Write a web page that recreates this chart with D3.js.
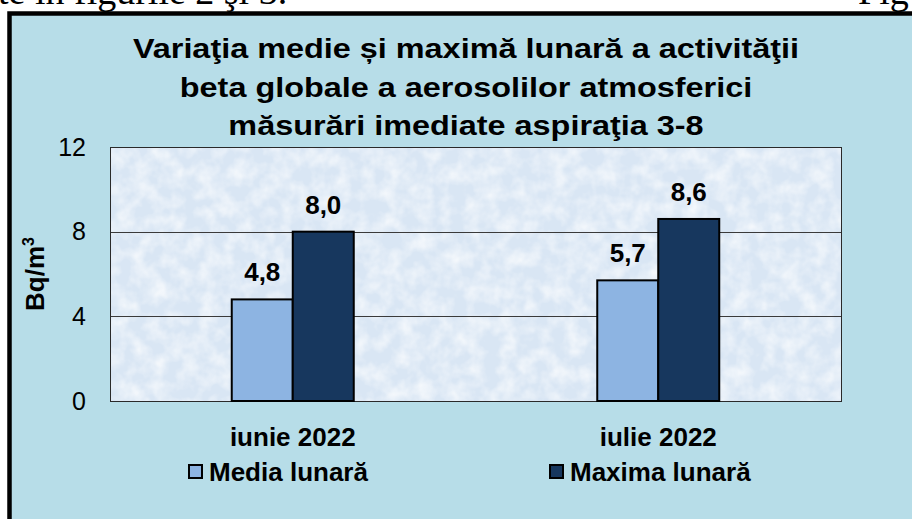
<!DOCTYPE html>
<html>
<head>
<meta charset="utf-8">
<script src="https://cdn.jsdelivr.net/npm/d3@7"></script>
<style>
  html, body { margin: 0; padding: 0; background: #fff; overflow: hidden; }
  svg { display: block; }
</style>
</head>
<body>
<script>
(function() {
  'use strict';

  // chart data
  const categories = ['iunie 2022', 'iulie 2022'];
  const seriesNames = ['Media lunară', 'Maxima lunară'];
  const mediaValues = [4.8, 5.7];
  const maximaValues = [8.0, 8.6];
  const yTicks = [0, 4, 8, 12];
  const titleLines = [
    'Variaţia medie și maximă lunară a activităţii',
    'beta globale  a aerosolilor atmosferici',
    'măsurări imediate aspiraţia 3-8'
  ];

  const w = 912;
  const h = 519;
  const colors = ['#8db4e2', '#17375e'];
  const font = 'Arial, "Liberation Sans", sans-serif';
  const serif = '"Liberation Serif", "Times New Roman", serif';

  const plot = { left: 110, right: 841, top: 147, bottom: 401 };

  const svg = d3.select('body')
    .append('svg')
    .attr('width', w)
    .attr('height', h);

  // texture for plot area
  const defs = svg.append('defs');
  const filter = defs.append('filter')
    .attr('id', 'mottle')
    .attr('x', 0).attr('y', 0).attr('width', 1).attr('height', 1);
  filter.append('feTurbulence')
    .attr('type', 'fractalNoise')
    .attr('baseFrequency', 0.06)
    .attr('numOctaves', 3)
    .attr('seed', 7)
    .attr('result', 'noise');
  filter.append('feColorMatrix')
    .attr('in', 'noise')
    .attr('type', 'matrix')
    .attr('values', '0 0 0 0 1  0 0 0 0 1  0 0 0 0 1  0 0 0 1.6 -0.55');

  // page text above the chart (cut off by the page edge, as in the scan)
  svg.append('text')
    .attr('x', -2)
    .attr('y', 4)
    .style('font-family', serif)
    .style('font-size', '38px')
    .text('te în figurile 2 şi 3.');
  svg.append('text')
    .attr('x', 858)
    .attr('y', 4)
    .style('font-family', serif)
    .style('font-size', '38px')
    .text('Fig');

  // chart box
  svg.append('rect')
    .attr('x', 9.5)
    .attr('y', 13.5)
    .attr('width', 940)
    .attr('height', 540)
    .attr('fill', '#b7dde8')
    .attr('stroke', '#000')
    .attr('stroke-width', 4.5);

  // title (the original is set wide)
  svg.append('g')
    .selectAll('text')
    .data(titleLines)
    .enter()
    .append('text')
    .attr('transform', (d, i) => 'translate(466,' + (58 + i * 38.5) + ') scale(1.2,1)')
    .attr('text-anchor', 'middle')
    .style('font-family', font)
    .style('font-size', '27px')
    .style('font-weight', 'bold')
    .text((d) => d);

  // scales
  const xScale = d3.scaleBand()
    .domain(categories)
    .range([plot.left, plot.right]);
  const groupWidth = 122;
  const xInner = d3.scaleBand()
    .domain(seriesNames)
    .range([0, groupWidth]);
  const yScale = d3.scaleLinear()
    .domain([0, 12])
    .range([plot.bottom, plot.top]);

  // plot area
  svg.append('rect')
    .attr('x', plot.left)
    .attr('y', plot.top)
    .attr('width', plot.right - plot.left)
    .attr('height', plot.bottom - plot.top)
    .attr('fill', '#d9e6f4');
  svg.append('rect')
    .attr('x', plot.left)
    .attr('y', plot.top)
    .attr('width', plot.right - plot.left)
    .attr('height', plot.bottom - plot.top)
    .attr('fill', '#fff')
    .attr('filter', 'url(#mottle)')
    .attr('opacity', 0.8);

  // gridlines
  svg.append('g')
    .selectAll('line')
    .data(yTicks.filter((t) => t > 0 && t < 12))
    .enter()
    .append('line')
    .attr('x1', plot.left)
    .attr('x2', plot.right)
    .attr('y1', (d) => Math.round(yScale(d)) + 0.5)
    .attr('y2', (d) => Math.round(yScale(d)) + 0.5)
    .attr('stroke', '#3a3a3a')
    .attr('stroke-width', 1);

  svg.append('rect')
    .attr('x', plot.left + 0.5)
    .attr('y', plot.top + 0.5)
    .attr('width', plot.right - plot.left)
    .attr('height', plot.bottom - plot.top)
    .attr('fill', 'none')
    .attr('stroke', '#2a2a2a')
    .attr('stroke-width', 1);

  // bars
  const seriesData = [mediaValues, maximaValues];
  const offset = (xScale.bandwidth() - groupWidth) / 2;
  const barData = [];
  categories.forEach((c, i) => {
    seriesNames.forEach((s, j) => {
      barData.push({ cat: c, series: s, idx: j, value: seriesData[j][i] });
    });
  });

  svg.append('g')
    .selectAll('rect')
    .data(barData)
    .enter()
    .append('rect')
    .attr('x', (d) => xScale(d.cat) + offset + xInner(d.series))
    .attr('y', (d) => yScale(d.value))
    .attr('width', xInner.bandwidth())
    .attr('height', (d) => yScale(0) - yScale(d.value))
    .attr('fill', (d) => colors[d.idx])
    .attr('stroke', '#000')
    .attr('stroke-width', 2);

  // value labels
  svg.append('g')
    .selectAll('text')
    .data(barData)
    .enter()
    .append('text')
    .attr('x', (d) => xScale(d.cat) + offset + xInner(d.series) + xInner.bandwidth() / 2)
    .attr('y', (d) => yScale(d.value) - 18)
    .attr('text-anchor', 'middle')
    .style('font-family', font)
    .style('font-size', '26px')
    .style('font-weight', 'bold')
    .text((d) => d.value.toFixed(1).replace('.', ','));

  // y axis
  const yAxis = d3.axisLeft(yScale)
    .tickValues(yTicks)
    .tickSize(0)
    .tickPadding(0);
  const yAxisG = svg.append('g')
    .attr('transform', 'translate(86,0)')
    .call(yAxis);
  yAxisG.select('.domain').remove();
  yAxisG.selectAll('text')
    .style('font-family', font)
    .style('font-size', '25px')
    .attr('fill', '#000');

  // y axis title
  const yTitle = svg.append('text')
    .attr('transform', 'translate(44,' + ((plot.top + plot.bottom) / 2) + ') rotate(-90)')
    .attr('text-anchor', 'middle')
    .style('font-family', font)
    .style('font-size', '26px')
    .style('font-weight', 'bold');
  yTitle.append('tspan').text('Bq/m');
  yTitle.append('tspan')
    .attr('dy', -10)
    .style('font-size', '16px')
    .text('3');

  // x axis
  const xAxis = d3.axisBottom(xScale).tickSize(0).tickPadding(0);
  const xAxisG = svg.append('g')
    .attr('transform', 'translate(0,' + plot.bottom + ')')
    .call(xAxis);
  xAxisG.select('.domain').remove();
  xAxisG.selectAll('text')
    .attr('y', 45)
    .attr('dy', 0)
    .attr('fill', '#000')
    .style('font-family', font)
    .style('font-size', '26px')
    .style('font-weight', 'bold');

  // legend
  const legendX = [188, 549];
  const legend = svg.append('g')
    .selectAll('g')
    .data(seriesNames)
    .enter()
    .append('g')
    .attr('transform', (d, i) => 'translate(' + legendX[i] + ',464)');
  legend.append('rect')
    .attr('x', 1)
    .attr('y', 1)
    .attr('width', 13)
    .attr('height', 13)
    .attr('fill', (d, i) => colors[i])
    .attr('stroke', '#000')
    .attr('stroke-width', 2);
  legend.append('text')
    .attr('x', 21)
    .attr('y', 17)
    .style('font-family', font)
    .style('font-size', '26px')
    .style('font-weight', 'bold')
    .text((d) => d);
}());
</script>
</body>
</html>
